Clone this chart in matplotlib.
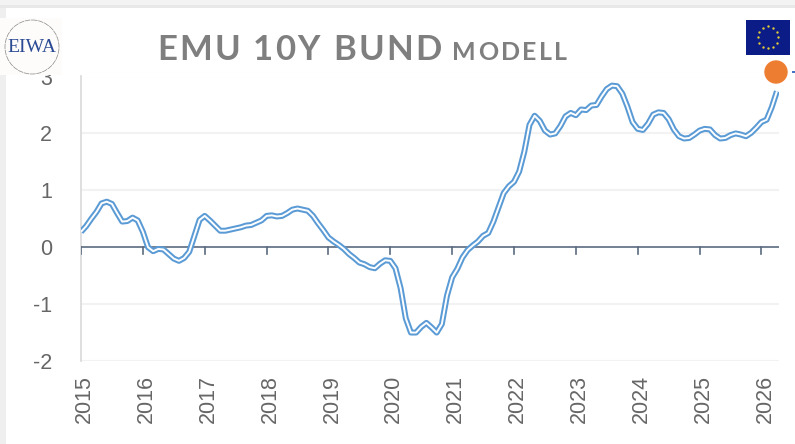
import numpy as np
import matplotlib
matplotlib.use('Agg')
import matplotlib.pyplot as plt
from matplotlib.patches import Rectangle, Circle

years=[2015,2016,2017,2018,2019,2020,2021,2022,2023,2024,2025,2026]
y_ticks=[-2,-1,0,1,2,3]
# monthly values, starting jan 2015
vals=[0.27,0.37,0.50,0.62,0.77,0.80,0.76,0.60,0.45,0.46,0.52,0.47,
      0.27,0.00,-0.07,-0.03,-0.04,-0.12,-0.20,-0.24,-0.19,-0.08,0.20,0.48,
      0.55,0.47,0.38,0.29,0.29,0.31,0.33,0.35,0.38,0.39,0.43,0.47,
      0.55,0.56,0.54,0.55,0.60,0.66,0.68,0.66,0.64,0.55,0.42,0.30,
      0.17,0.10,0.04,-0.03,-0.12,-0.19,-0.27,-0.30,-0.35,-0.37,-0.29,-0.23,
      -0.24,-0.37,-0.72,-1.25,-1.50,-1.50,-1.40,-1.33,-1.41,-1.50,-1.35,-0.85,
      -0.53,-0.38,-0.18,-0.05,0.03,0.10,0.20,0.25,0.45,0.70,0.95,1.07,
      1.15,1.33,1.68,2.15,2.31,2.22,2.05,1.98,2.00,2.13,2.30,2.36,
      2.32,2.42,2.41,2.49,2.50,2.65,2.78,2.84,2.83,2.70,2.47,2.20,
      2.08,2.06,2.17,2.33,2.37,2.36,2.25,2.07,1.95,1.91,1.92,1.98,
      2.05,2.08,2.07,1.97,1.91,1.92,1.97,2.00,1.98,1.95,2.01,2.10,
      2.20,2.24,2.46,2.74]
months=np.arange(len(vals))

W,H=795,444
fig=plt.figure(figsize=(W/100,H/100),dpi=100)
fig.patch.set_facecolor('white')

# main axes, placed in pixels
left,right,top,bottom=81,779,76.5,361
ax=fig.add_axes([left/W,1-bottom/H,(right-left)/W,(bottom-top)/H])
ax.set_xlim(0,(right-left)/5.155)
ax.set_ylim(-2,3)
ax.set_facecolor('none')
for s in ['top','right','bottom']:
    ax.spines[s].set_visible(False)
ax.spines['left'].set_color('#d9d9d9')
ax.spines['left'].set_linewidth(1.2)
ax.spines['left'].set_zorder(1)
ax.set_yticks(y_ticks)
ax.set_yticklabels([str(v) for v in y_ticks],fontsize=15.5,color='#666666',family='Liberation Sans')
ax.tick_params(axis='y',length=0,pad=21)
ax.set_xticks([])
ax.grid(False)
for v in y_ticks:
    if v!=0:
        ax.axhline(v,color='#f2f2f2',lw=1.5,zorder=1)
ax.axhline(0,color='#5b6b80',lw=1.2,zorder=2)

# ticks hang below the zero line, labels at the bottom
for i,yr in enumerate(years):
    m=i*12
    ax.plot([m,m],[0,-0.12],color='#5b6b80',lw=1.2,zorder=2)
    ax.annotate(str(yr),(m,-2),xytext=(2.5,-10),textcoords='offset points',rotation=90,
                ha='center',va='top',fontsize=15.5,color='#666666',family='Liberation Sans',
                annotation_clip=False)

# double line
ax.plot(months,vals,color='#5b9bd5',lw=4.3,zorder=3,solid_joinstyle='round',solid_capstyle='butt')
ax.plot(months,vals,color='white',lw=1.4,zorder=4,solid_joinstyle='round',solid_capstyle='butt')

# overlay in pixel coordinates
ov=fig.add_axes([0,0,1,1])
ov.set_xlim(0,W)
ov.set_ylim(H,0)
ov.axis('off')
ov.patch.set_alpha(0)

# screenshot edges
ov.add_patch(Rectangle((0,0),W,5,color='#f3f3f3',lw=0))
ov.add_patch(Rectangle((0,5),W,3,color='#e8e8e8',lw=0))
ov.add_patch(Rectangle((0,8),6,H,color='#efefef',lw=0))

# title, spaced by hand
def spaced(x,y,s,size,gap):
    r=fig.canvas.get_renderer()
    for ch in s:
        t=ov.text(x,y,ch,fontsize=size,color='#7f7f7f',fontweight='bold',family='Lato',ha='left',va='baseline')
        x+=t.get_window_extent(r).width+gap if ch!=' ' else 11
    return x
spaced(157,60,'EMU 10Y BUND',25,2.2)
spaced(452,60,'MODELL',18,2.4)

# logo
ov.add_patch(Rectangle((0,18),62,57,color='#fdfcfa',lw=0,zorder=5))
ov.add_patch(Circle((32,47),27,fill=False,ec='#888888',lw=0.5,ls=(0,(8,1)),zorder=6))
ov.text(32,47.5,'EIWA',fontsize=14,color='#2b4a94',family='Liberation Serif',ha='center',va='center',zorder=6)

# flag
ov.add_patch(Rectangle((746,20),44,35,color='#0b1c86',lw=0,zorder=5))
ang=np.arange(12)*np.pi/6
ov.scatter(768+10*np.cos(ang),37.5+11*np.sin(ang),s=3,color='#e0c83a',lw=0,zorder=6)

# last value marker
ov.add_patch(Circle((776,72),11.7,color='#ed7d31',lw=0,zorder=6))
ov.add_patch(Rectangle((792,71),3,2,color='#4472c4',lw=0,zorder=6))

plt.savefig('out.png',dpi=100)
